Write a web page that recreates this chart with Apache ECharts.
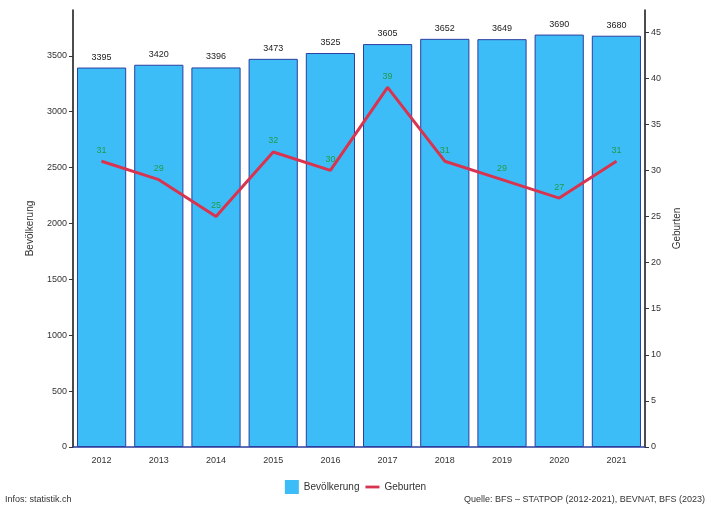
<!DOCTYPE html>
<html>
<head>
<meta charset="utf-8">
<script src="https://cdn.jsdelivr.net/npm/echarts@6/dist/echarts.min.js"></script>
<style>
  html, body { margin: 0; padding: 0; background: #fff; }
  #chart { width: 711px; height: 510px; }
</style>
</head>
<body>
<div id="chart"></div>
<script>
// data
const years = ["2012", "2013", "2014", "2015", "2016", "2017", "2018", "2019", "2020", "2021"];
const population = [3395, 3420, 3396, 3473, 3525, 3605, 3652, 3649, 3690, 3680];
const births = [31, 29, 25, 32, 30, 39, 31, 29, 27, 31];
const leftTicks = [0, 500, 1000, 1500, 2000, 2500, 3000, 3500];
const rightTicks = [0, 5, 10, 15, 20, 25, 30, 35, 40, 45];

const chart = echarts.init(document.getElementById("chart"));

const axisText = { color: "#333", fontSize: 9, fontFamily: "Liberation Sans" };

const option = {
  animation: false,
  grid: { left: 73, right: 66, top: 10, bottom: 63 },
  legend: {
    bottom: 11,
    left: "center",
    itemGap: 6,
    itemWidth: 14,
    itemHeight: 14,
    textStyle: { color: "#333", fontSize: 10, fontFamily: "Liberation Sans" },
    data: [
      { name: "Bevölkerung", icon: "rect", itemStyle: { borderWidth: 0 } },
      { name: "Geburten", icon: "path://M0 0H20V4H0Z" },
    ],
  },
  graphic: [
    {
      type: "text",
      left: 5,
      bottom: 6,
      style: { text: "Infos: statistik.ch", fill: "#333", font: "9px Liberation Sans" },
    },
    {
      type: "text",
      right: 6,
      bottom: 6,
      style: {
        text: "Quelle: BFS – STATPOP (2012-2021), BEVNAT, BFS (2023)",
        fill: "#333",
        font: "9px Liberation Sans",
      },
    },
  ],
  xAxis: {
    type: "category",
    data: years,
    axisLine: { lineStyle: { color: "#2b3fa0", width: 1.5 } },
    axisTick: { show: false },
    axisLabel: Object.assign({ margin: 9 }, axisText),
  },
  yAxis: [
    {
      type: "value",
      name: "Bevölkerung",
      nameLocation: "middle",
      nameGap: 38,
      nameTextStyle: { color: "#333", fontSize: 10, fontFamily: "Liberation Sans" },
      min: 0,
      max: 3910,
      interval: 500,
      splitLine: { show: false },
      axisLine: { show: true, lineStyle: { color: "#111", width: 1.5 } },
      axisTick: { show: true, length: 4, customValues: leftTicks, lineStyle: { color: "#333" } },
      axisLabel: Object.assign({ customValues: leftTicks, margin: 6, formatter: (v) => String(v) }, axisText),
    },
    {
      type: "value",
      name: "Geburten",
      nameLocation: "middle",
      nameGap: 24,
      nameTextStyle: { color: "#333", fontSize: 10, fontFamily: "Liberation Sans" },
      min: 0,
      max: 47.4,
      interval: 5,
      splitLine: { show: false },
      axisLine: { show: true, lineStyle: { color: "#111", width: 1.5 } },
      axisTick: { show: true, length: 4, customValues: rightTicks, lineStyle: { color: "#333" } },
      axisLabel: Object.assign({ customValues: rightTicks, margin: 6 }, axisText),
    },
  ],
  series: [
    {
      name: "Bevölkerung",
      type: "bar",
      data: population,
      barWidth: "86%",
      itemStyle: { color: "#3dbdf7", borderColor: "#2b3fa0", borderWidth: 1 },
      label: {
        show: true,
        position: "top",
        distance: 6,
        color: "#222",
        fontSize: 9,
        fontFamily: "Liberation Sans",
      },
    },
    {
      name: "Geburten",
      type: "line",
      yAxisIndex: 1,
      data: births,
      symbol: "circle",
      symbolSize: 1,
      lineStyle: { color: "#d8344f", width: 3 },
      itemStyle: { color: "#d8344f" },
      label: {
        show: true,
        position: "top",
        distance: 6,
        color: "#1f9d4a",
        fontSize: 9,
        fontFamily: "Liberation Sans",
      },
    },
  ],
};

chart.setOption(option);
</script>
</body>
</html>
